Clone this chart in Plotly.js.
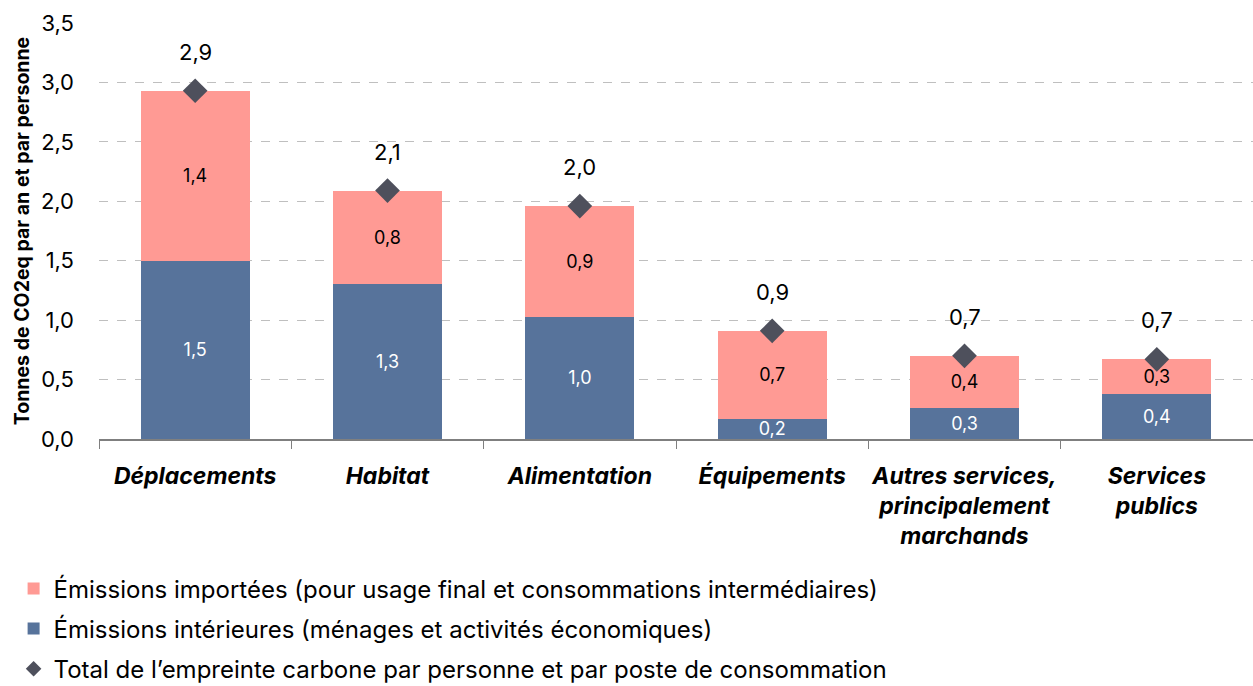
<!DOCTYPE html>
<html>
<head>
<meta charset="utf-8">
<script src="https://cdn.plot.ly/plotly-3.0.1.min.js"></script>
<style>html,body{margin:0;padding:0;background:#fff;}#chart{width:1253px;height:686px;}</style>
</head>
<body>
<div id="chart"></div>
<script>
const categories = ['Déplacements', 'Habitat', 'Alimentation', 'Équipements', 'Autres services,<br>principalement<br>marchands', 'Services<br>publics'];
const interieures = [1.50, 1.30, 1.03, 0.17, 0.26, 0.38];
const importees = [1.43, 0.79, 0.93, 0.74, 0.44, 0.29];
const totals = [2.93, 2.09, 1.96, 0.91, 0.70, 0.67];
const yTicks = [0, 0.5, 1, 1.5, 2, 2.5, 3, 3.5];
const names = ['Émissions importées (pour usage final et consommations intermédiaires)', 'Émissions intérieures (ménages et activités économiques)', 'Total de l’empreinte carbone par personne et par poste de consommation'];

const FONT = 'Inter, "Open Sans", sans-serif';
const blue = '#57739B';
const pink = '#FF9A94';
const dark = '#4E505C';

const traces = [
  {type:'bar', x:categories, y:interieures, name:names[1], legendrank:2, legendgroup:'b',
   marker:{color:blue, line:{width:0}}, texttemplate:'%{y:.1f}', textposition:'inside', insidetextanchor:'middle',
   constraintext:'none', textfont:{color:'#ffffff', size:18, family:FONT}, hoverinfo:'skip'},
  {type:'bar', x:categories, y:importees, name:names[0], legendrank:1, legendgroup:'a',
   marker:{color:pink, line:{width:0}}, texttemplate:'%{y:.1f}', textposition:'inside', insidetextanchor:'middle',
   constraintext:'none', textfont:{color:'#000000', size:18, family:FONT}, hoverinfo:'skip'},
  {type:'scatter', mode:'markers', x:categories, y:totals, name:names[2], legendrank:3, legendgroup:'c',
   marker:{symbol:'diamond', size:19, color:dark}, hoverinfo:'skip'}
];

const annotations = categories.map((c, i) => ({
  x:c, y:totals[i], xref:'x', yref:'y', text:totals[i].toFixed(1).replace('.', ','),
  showarrow:false, yshift:39, font:{size:22, color:'#000', family:FONT}
}));

const layout = {
  width:1253, height:686,
  margin:{l:99, r:0, t:23, b:247},
  barmode:'stack', bargap:0.434,
  separators:', ',
  paper_bgcolor:'#fff', plot_bgcolor:'#fff',
  font:{family:FONT, color:'#000'},
  showlegend:true,
  legend:{xref:'paper', yref:'container', x:-0.074, y:0.1745, xanchor:'left', yanchor:'top', orientation:'v', traceorder:'normal+grouped',
          font:{size:24, family:FONT, color:'#000'}, tracegroupgap:6, itemsizing:'constant', itemwidth:30, bgcolor:'rgba(0,0,0,0)'},
  xaxis:{type:'category', tickson:'boundaries', ticks:'outside', ticklen:8, tickcolor:'#7f7f7f', tickangle:0,
         showline:true, linecolor:'#7f7f7f', linewidth:1.5, showgrid:false, ticklabelstandoff:16,
         tickfont:{size:23, family:FONT, color:'#000'},
         ticktext:categories.map(c => '<b><i>' + c + '</i></b>'), tickvals:categories},
  yaxis:{range:[0, 3.5], tickvals:yTicks, tickformat:'.1f', showgrid:true, gridcolor:'#BFBFBF', griddash:'dash',
         gridwidth:1, zeroline:false, showline:false, ticks:'', ticklabelstandoff:24,
         tickfont:{size:22, family:FONT, color:'#000'},
         title:{text:'<b>Tonnes de CO2eq par an et par personne</b>', font:{size:19.5, family:FONT, color:'#000'}, standoff:6}},
  annotations:annotations
};

Plotly.newPlot('chart', traces, layout, {displayModeBar:false, staticPlot:true});
</script>
</body>
</html>
